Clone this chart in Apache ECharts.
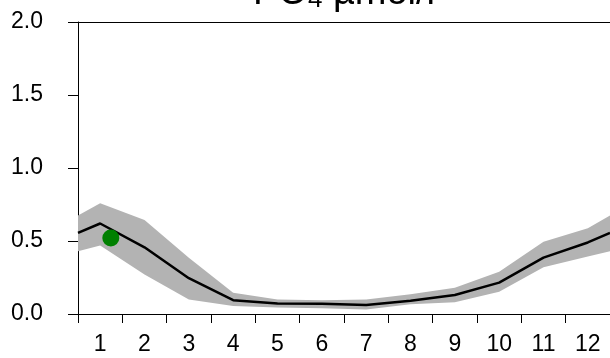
<!DOCTYPE html>
<html>
<head>
<meta charset="utf-8">
<script src="https://cdn.jsdelivr.net/npm/echarts@6/dist/echarts.min.js"></script>
<style>
  html, body { margin: 0; padding: 0; background: #fff; }
  #chart { width: 610px; height: 358px; }
</style>
</head>
<body>
<div id="chart"></div>
<script>
// Monthly PO4 climatology: mean and spread, wrapped at both ends (Dec/Jan)
const monthLabels = ['1', '2', '3', '4', '5', '6', '7', '8', '9', '10', '11', '12'];
const monthPos   = [0.5, 1, 2, 3, 4, 5, 6, 7, 8, 9, 10, 11, 12, 12.5];
const meanPO4    = [0.555, 0.62, 0.457, 0.245, 0.095, 0.072, 0.07, 0.062, 0.09, 0.13, 0.215, 0.386, 0.49, 0.555];
const upperPO4   = [0.675, 0.758, 0.644, 0.385, 0.145, 0.10, 0.095, 0.10, 0.135, 0.18, 0.29, 0.495, 0.587, 0.675];
const lowerPO4   = [0.43, 0.47, 0.27, 0.10, 0.055, 0.045, 0.04, 0.03, 0.066, 0.08, 0.153, 0.32, 0.393, 0.43];
// Single observation
const obsMonth = [1.24];
const obsPO4   = [0.52];
const yTicks   = [0, 0.5, 1.0, 1.5, 2.0];

const font = 'Liberation Sans, Arial, Helvetica, sans-serif';
const chart = echarts.init(document.getElementById('chart'), null, { renderer: 'canvas' });

const pair = (xs, ys) => xs.map((x, i) => [x, ys[i]]);
// one row per month position: [x, lower, upper]
const bandRows = monthPos.map((x, i) => [x, lowerPO4[i], upperPO4[i]]);

// Shaded spread: upper edge left-to-right, lower edge back right-to-left
function renderBand(params, api) {
  if (params.dataIndex !== 0) return null;
  const top = bandRows.map(r => api.coord([r[0], r[2]]));
  const bottom = bandRows.map(r => api.coord([r[0], r[1]])).reverse();
  return {
    type: 'polygon',
    shape: { points: top.concat(bottom) },
    style: { fill: '#b3b3b3', stroke: null }
  };
}

chart.setOption({
  animation: false,
  backgroundColor: '#ffffff',
  grid: { left: 78, right: -2, top: 22, bottom: 44 },
  graphic: [{
    type: 'text',
    x: 344,
    y: -25,
    style: {
      text: '{m|PO}{s|4}{m| µmol/l}',
      align: 'center',
      verticalAlign: 'top',
      rich: {
        m: { fontFamily: font, fontSize: 38, lineHeight: 38, verticalAlign: 'bottom', fill: '#000' },
        s: { fontFamily: font, fontSize: 26, lineHeight: 20, verticalAlign: 'bottom', fill: '#000' }
      }
    }
  }],
  xAxis: [
    {
      // month labels with ticks on month boundaries
      type: 'category',
      data: monthLabels,
      boundaryGap: true,
      position: 'bottom',
      axisLine: { show: true, lineStyle: { color: '#000', width: 1 } },
      axisTick: { show: true, length: 9, lineStyle: { color: '#000', width: 1 } },
      axisLabel: { color: '#000', fontFamily: font, fontSize: 23, margin: 19 },
      splitLine: { show: false }
    },
    {
      // continuous month scale used by the data
      type: 'value',
      min: 0.5,
      max: 12.5,
      show: false
    },
    {
      // top frame line
      type: 'value',
      min: 0.5,
      max: 12.5,
      position: 'top',
      axisLine: { show: true, onZero: false, lineStyle: { color: '#000', width: 1 } },
      axisTick: { show: false },
      axisLabel: { show: false },
      splitLine: { show: false }
    }
  ],
  yAxis: {
    type: 'value',
    min: yTicks[0],
    max: yTicks[yTicks.length - 1],
    interval: 0.5,
    axisLine: { show: true, lineStyle: { color: '#000', width: 1 } },
    axisTick: { show: true, length: 10, lineStyle: { color: '#000', width: 1 } },
    axisLabel: {
      color: '#000', fontFamily: font, fontSize: 23, margin: 35,
      formatter: v => v.toFixed(1)
    },
    splitLine: { show: false }
  },
  series: [
    {
      type: 'custom',
      xAxisIndex: 1,
      data: bandRows,
      encode: { x: 0, y: [1, 2] },
      renderItem: renderBand,
      clip: true,
      silent: true,
      z: 1
    },
    {
      type: 'line',
      xAxisIndex: 1,
      data: pair(monthPos, meanPO4),
      symbol: 'none',
      lineStyle: { color: '#000', width: 2.5 },
      silent: true,
      z: 3
    },
    {
      type: 'scatter',
      xAxisIndex: 1,
      data: pair(obsMonth, obsPO4),
      symbol: 'circle',
      symbolSize: 17,
      itemStyle: { color: '#008000', opacity: 1 },
      silent: true,
      z: 5
    }
  ]
});
</script>
</body>
</html>
